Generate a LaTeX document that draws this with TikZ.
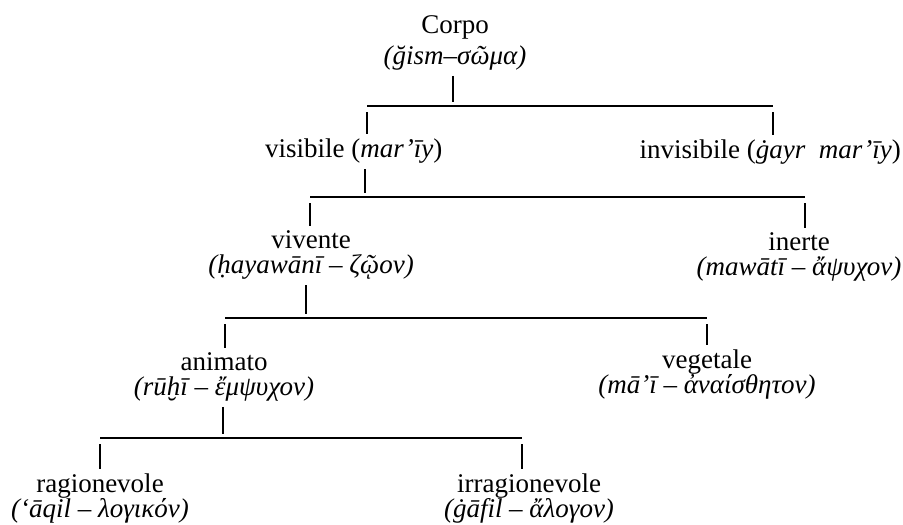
\documentclass[tikz,border=0pt]{standalone}
\usepackage{fontspec}
\setmainfont{Liberation Serif}
\usepackage{tikz}
\usetikzlibrary{positioning, calc}

\begin{document}
\begin{tikzpicture}[x=1pt, y=-1pt,
    lbl/.style={anchor=base, inner sep=0pt, align=center, font=\fontsize{27}{25}\selectfont},
    bar/.style={line width=1.6pt},
    tick/.style={line width=2pt, shorten <=6pt, shorten >=4pt}]
\useasboundingbox (0,0) rectangle (903,525);

% Root (base = baseline of the last line)
\node[lbl] (corpo) at (455,64) {Corpo\\[6pt]\textit{(ğism–σῶμα)}};

% Level 1
\node[lbl, anchor=base west] (vis) at (265,157) {visibile (\textit{mar’īy})};
\node[lbl, anchor=base east] (invis) at (901,158) {invisibile (\textit{ġayr\ \ mar’īy})};

% Level 2
\node[lbl] (viv) at (311,273) {vivente\\\textit{(ḥayawānī – ζῷον)}};
\node[lbl] (inerte) at (799,275) {inerte\\\textit{(mawātī – ἄψυχον)}};

% Level 3
\node[lbl] (anim) at (224,395) {animato\\\textit{(rūḫī – ἔμψυχον)}};
\node[lbl] (veg) at (707,393) {vegetale\\\textit{(mā’ī – ἀναίσθητον)}};

% Level 4
\node[lbl] (rag) at (100,517) {ragionevole\\\textit{(‘āqil – λογικόν)}};
\node[lbl] (irr) at (529,517) {irragionevole\\\textit{(ġāfil – ἄλογον)}};

% Bars: left end, junction, right end
\coordinate (a1) at (367,106); \coordinate (j1) at (453,106); \coordinate (b1) at (773,106);
\coordinate (a2) at (310,197); \coordinate (j2) at (365,197); \coordinate (b2) at (805,197);
\coordinate (a3) at (225,318); \coordinate (j3) at (306,318); \coordinate (b3) at (707,318);
\coordinate (a4) at (100,438); \coordinate (j4) at (223,438); \coordinate (b4) at (522,438);

\draw[bar] (a1) -- (b1);
\draw[bar] (a2) -- (b2);
\draw[bar] (a3) -- (b3);
\draw[bar] (a4) -- (b4);

% Ticks up to the parents
\draw[tick] (j1 |- corpo.south) -- (j1);
\draw[tick] (j2 |- vis.south) -- (j2);
\draw[tick] (j3 |- viv.south) -- (j3);
\draw[tick] (j4 |- anim.south) -- (j4);

% Ticks down to the children
\draw[tick] (a1) -- (a1 |- vis.north);
\draw[tick] (b1) -- (b1 |- invis.north);
\draw[tick] (a2) -- (a2 |- viv.north);
\draw[tick] (b2) -- (b2 |- inerte.north);
\draw[tick] (a3) -- (a3 |- anim.north);
\draw[tick] (b3) -- (b3 |- veg.north);
\draw[tick] (a4) -- (a4 |- rag.north);
\draw[tick] (b4) -- (b4 |- irr.north);
\end{tikzpicture}
\end{document}
